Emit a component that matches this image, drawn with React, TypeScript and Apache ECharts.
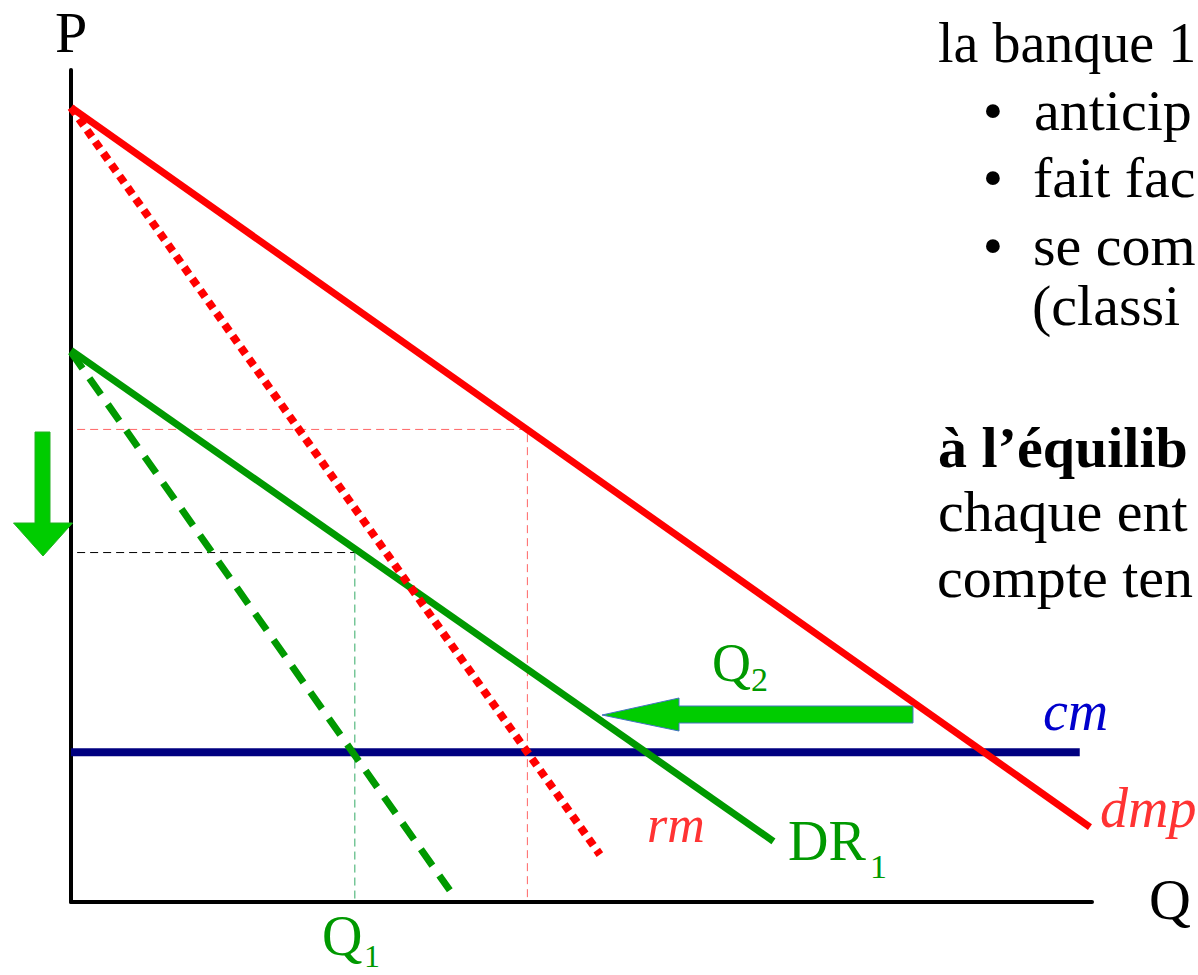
import React, { useEffect, useRef } from "react";
import * as echarts from "echarts";

// ---- data (Q on x axis, P on y axis, arbitrary units 0..100) ----
const axisMax = 100;
const CM = 18.0; // marginal cost level
const Q1 = 27.8; // residual-monopoly quantity
const P1 = 42.0; // residual-monopoly price
const Q2 = 44.7; // monopoly quantity
const P2 = 56.8; // monopoly price

const dmpLine = [[0, 95.5], [99.8, 9.0]];
const rmLine = [[0, 95.5], [51.8, 5.7]];
const dr1Line = [[0, 66.3], [68.8, 7.3]];
const rm1Line = [[0, 66.1], [37.1, 1.4]];
const cmLine = [[0, CM], [98.8, CM]];
const p2Guide = [[0.6, P2], [Q2, P2], [Q2, 0]];
const p1Guide = [[0.6, P1], [Q1, P1]];
const q1Guide = [[Q1, P1], [Q1, 0]];

// visible part of the side text (the slide is cropped at the right edge)
const sideLines = [
  { text: "la banque 1", x: 938, base: 62, size: 56, bold: false },
  { text: "anticip", x: 1034, base: 130, size: 58, bold: false, bullet: true },
  { text: "fait fac", x: 1033, base: 197, size: 58, bold: false, bullet: true },
  { text: "se com", x: 1033, base: 265, size: 58, bold: false, bullet: true },
  { text: "(classi", x: 1032, base: 325, size: 58, bold: false },
  { text: "à l’équilib", x: 938, base: 467, size: 58, bold: true },
  { text: "chaque ent", x: 938, base: 531, size: 58, bold: false },
  { text: "compte ten", x: 937, base: 597, size: 58, bold: false },
];

const SERIF = "'Liberation Serif', 'Times New Roman', serif";

function txt(
  text: string,
  x: number,
  base: number,
  size: number,
  fill: string,
  opts: { italic?: boolean; bold?: boolean; align?: string } = {}
) {
  return {
    type: "text",
    x,
    y: base - 0.3375 * size,
    silent: true,
    z: 100,
    style: {
      text,
      fill,
      fontSize: size,
      fontFamily: SERIF,
      fontStyle: opts.italic ? "italic" : "normal",
      fontWeight: opts.bold ? "bold" : "normal",
      align: opts.align || "left",
      verticalAlign: "middle",
    },
  };
}

function lineSeries(name: string, data: number[][], color: string, width: number, type: any = "solid") {
  return {
    type: "line",
    name,
    data,
    symbol: "none",
    silent: true,
    lineStyle: { color, width, type, cap: "butt" },
    emphasis: { disabled: true },
  };
}

export default function App() {
  const ref = useRef<HTMLDivElement>(null);

  useEffect(() => {
    const chart = echarts.init(ref.current!, null, { renderer: "svg" });

    const graphics: any[] = [];
    // right-hand text
    sideLines.forEach((l: any) => {
      if (l.bullet) graphics.push(txt("•", 993, l.base, 58, "#000", { align: "center" }));
      graphics.push(txt(l.text, l.x, l.base, l.size, "#000", { bold: l.bold }));
    });
    // axis letters
    graphics.push(txt("P", 71, 52, 58, "#000", { align: "center" }));
    graphics.push(txt("Q", 1149, 919, 58, "#000"));
    // curve labels
    graphics.push(txt("cm", 1043, 730, 56, "#0000CC", { italic: true }));
    graphics.push(txt("dmp", 1100, 827, 56, "#FF3333", { italic: true }));
    graphics.push(txt("rm", 647, 842, 52, "#FF3333", { italic: true }));
    graphics.push(txt("DR", 788, 860, 56, "#009900"));
    graphics.push(txt("1", 870, 878, 34, "#009900"));
    graphics.push(txt("Q", 322, 955, 56, "#009900"));
    graphics.push(txt("1", 364, 967, 32, "#009900"));
    graphics.push(txt("Q", 712, 681, 54, "#009900"));
    graphics.push(txt("2", 751, 691, 34, "#009900"));
    // arrows
    graphics.push({
      type: "polygon",
      silent: true,
      z: 90,
      shape: {
        points: [
          [602, 715], [679, 698], [679, 706], [913, 706],
          [913, 723], [679, 723], [679, 731],
        ],
      },
      style: { fill: "#00CC00", stroke: "#4472C4", lineWidth: 1 },
    });
    graphics.push({
      type: "polygon",
      silent: true,
      z: 90,
      shape: {
        points: [
          [35, 432], [50, 432], [50, 523], [72.5, 523],
          [43, 556], [13.5, 523], [35, 523],
        ],
      },
      style: { fill: "#00CC00", stroke: "#22B022", lineWidth: 1 },
    });

    chart.setOption({
      animation: false,
      backgroundColor: "#ffffff",
      grid: { left: 71, right: 106, top: 70, bottom: 73, containLabel: false },
      xAxis: {
        type: "value",
        min: 0,
        max: axisMax,
        axisLine: { show: true, onZero: false, lineStyle: { color: "#000", width: 4 } },
        axisTick: { show: false },
        axisLabel: { show: false },
        splitLine: { show: false },
      },
      yAxis: {
        type: "value",
        min: 0,
        max: axisMax,
        axisLine: { show: true, onZero: false, lineStyle: { color: "#000", width: 4 } },
        axisTick: { show: false },
        axisLabel: { show: false },
        splitLine: { show: false },
      },
      series: [
        lineSeries("p2guide", p2Guide, "#FF6666", 1, [8, 5]),
        lineSeries("p1guide", p1Guide, "#000000", 1, [8, 5]),
        lineSeries("q1guide", q1Guide, "#33AA66", 1, [8, 5]),
        lineSeries("cm", cmLine, "#000080", 8),
        lineSeries("rm1", rm1Line, "#009900", 7, [20, 12]),
        lineSeries("DR1", dr1Line, "#009900", 7),
        lineSeries("rm", rmLine, "#FF0000", 8, [8, 6]),
        lineSeries("dmp", dmpLine, "#FF0000", 7),
      ],
      graphic: graphics,
    });

    return () => chart.dispose();
  }, []);

  return (
    <div
      ref={ref}
      style={{ position: "absolute", left: 0, top: 0, width: 1198, height: 975, background: "#fff" }}
    />
  );
}
